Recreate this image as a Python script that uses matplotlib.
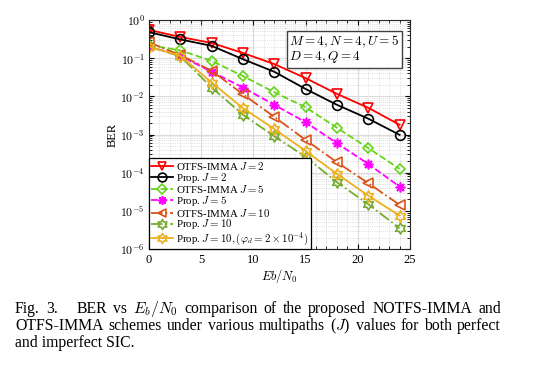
import numpy as np
import matplotlib
matplotlib.use('Agg')
import matplotlib.pyplot as plt
from matplotlib.path import Path
from matplotlib.ticker import LogLocator, MultipleLocator, NullFormatter, FuncFormatter

plt.rcParams['font.family'] = ['Liberation Serif', 'DejaVu Serif']
plt.rcParams['mathtext.fontset'] = 'cm'

#### DATA ####
snr = [0, 3, 6, 9, 12, 15, 18, 21, 24]

otfs_j2 = [0.55, 0.36, 0.25, 0.137, 0.07, 0.030, 0.0116, 0.0050, 0.0018]
prop_j2 = [0.48, 0.31, 0.21, 0.094, 0.044, 0.0156, 0.0060, 0.0026, 0.00098]
otfs_j5 = [0.22, 0.16, 0.085, 0.034, 0.0128, 0.0052, 0.0015, 0.00044, 0.000126]
prop_j5 = [0.20, 0.115, 0.044, 0.017, 0.0060, 0.0021, 0.00059, 0.00017, 4.3e-5]
otfs_j10 = [0.26, 0.12, 0.047, 0.0113, 0.0029, 0.00072, 0.000188, 5.3e-5, 1.44e-5]
prop_j10 = [0.20, 0.112, 0.017, 0.0033, 0.0009, 0.00026, 5.6e-5, 1.5e-5, 3.5e-6]
prop_j10_phi = [0.20, 0.115, 0.023, 0.0049, 0.0014, 0.00037, 9.3e-5, 2.5e-5, 7.5e-6]

labels = [r'OTFS-IMMA $J=2$', r'Prop. $J=2$', r'OTFS-IMMA $J=5$', r'Prop. $J=5$',
          r'OTFS-IMMA $J=10$', r'Prop. $J=10$',
          r'Prop. $J=10, (\varphi_d=2\times10^{-4})$']

caption = [
    'Fig. 3. BER vs $E_b/N_0$ comparison of the proposed NOTFS-IMMA and',
    'OTFS-IMMA schemes under various multipaths ($J$) values for both perfect',
    'and imperfect SIC.',
]

# six pointed star (MATLAB hexagram)
ang = np.pi / 2 + np.arange(12) * np.pi / 6
rad = np.where(np.arange(12) % 2 == 0, 1.0, 1 / np.sqrt(3))
hexverts = np.column_stack([rad * np.cos(ang), rad * np.sin(ang)])
hexagram = Path(np.vstack([hexverts, hexverts[:1]]), closed=True)

fig = plt.figure(figsize=(5.38, 3.66), dpi=100)
ax = fig.add_axes([149 / 538, 1 - 249 / 366, 261 / 538, 229 / 366])

styles = [
    (otfs_j2, '#FF0000', '-', 'v', 7),
    (prop_j2, '#000000', '-', 'o', 7),
    (otfs_j5, '#66D41A', '--', 'D', 5.5),
    (prop_j5, '#FF00FF', '--', (8, 2, 0), 7),
    (otfs_j10, '#D95319', '-.', '<', 7),
    (prop_j10, '#77AC30', '-.', hexagram, 8),
    (prop_j10_phi, '#EDB120', '-', hexagram, 8),
]
for (vals, col, ls, mk, ms), lab in zip(styles, labels):
    ax.semilogy(snr, vals, color=col, linestyle=ls, marker=mk, markersize=ms,
                markerfacecolor='none', markeredgecolor=col, markeredgewidth=1.2,
                linewidth=1.3, label=lab)

ax.set_xlim(0, 25)
ax.set_ylim(1e-6, 1)
ax.xaxis.set_major_locator(MultipleLocator(5))
ax.xaxis.set_minor_locator(MultipleLocator(1))
ax.yaxis.set_major_locator(LogLocator(base=10, numticks=10))
ax.yaxis.set_major_formatter(FuncFormatter(lambda v, p: r'$10^{%d}$' % round(np.log10(v))))
ax.yaxis.set_minor_locator(LogLocator(base=10, subs=np.arange(2, 10), numticks=10))
ax.yaxis.set_minor_formatter(NullFormatter())
ax.grid(True, which='major', color='#DADADA', linewidth=0.8)
ax.grid(True, which='minor', color='#C8C8C8', linewidth=0.5, linestyle=':')
ax.tick_params(which='both', direction='in', top=True, right=True, labelsize=9)
ax.tick_params(axis='y', labelsize=8.5, pad=3)
ax.tick_params(which='minor', length=2)
for s in ax.spines.values():
    s.set_color('#262626')

ax.set_ylabel('BER', fontsize=9, labelpad=1)
ax.set_xlabel(r'$Eb/N_0$', fontsize=9, labelpad=1)

ax.text(0.537, 0.94, r'$M=4, N=4, U=5$' + '\n' + r'$D=4, Q=4$', transform=ax.transAxes,
        fontsize=9.5, va='top', ha='left', linespacing=0.9,
        bbox=dict(boxstyle='square,pad=0.2', facecolor='white', edgecolor='#404040', linewidth=1.0))

leg = ax.legend(loc='lower left', fontsize=7.8, labelspacing=-0.12, borderpad=0.2,
                handlelength=2.0, handletextpad=0.3, borderaxespad=0, fancybox=False,
                framealpha=1, edgecolor='black', markerscale=0.9)
leg.get_frame().set_linewidth(0.9)

# justified caption
renderer = fig.canvas.get_renderer()
x0, x1 = 15 / 538, 501 / 538
ys = [1 - 309 / 366, 1 - 326 / 366, 1 - 343 / 366]
for i, (line, y) in enumerate(zip(caption, ys)):
    if i == 2:
        fig.text(x0, y, line, fontsize=11.3, va='center', ha='left')
        continue
    words = line.split(' ')
    texts = [fig.text(0, y, w, fontsize=11.3, va='center', ha='left') for w in words]
    widths = [t.get_window_extent(renderer).width / fig.bbox.width for t in texts]
    weights = [1.0] * (len(words) - 1)
    if i == 0:
        weights[1] = 3.0
    gap = (x1 - x0 - sum(widths)) / sum(weights)
    x = x0
    for j, t in enumerate(texts):
        t.set_x(x)
        if j < len(weights):
            x += widths[j] + gap * weights[j]

fig.savefig('out.png', dpi=100)
